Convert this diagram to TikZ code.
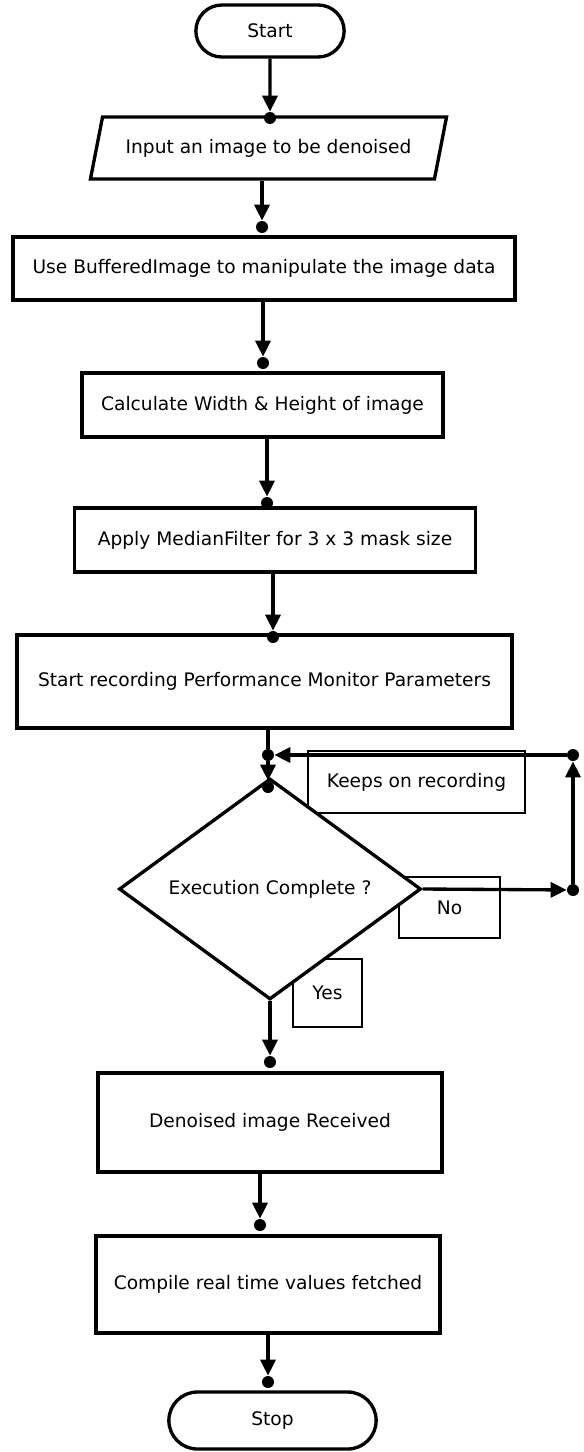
\documentclass[tikz,border=0pt]{standalone}
\usepackage{fontspec}
\setmainfont{DejaVu Sans}
\usetikzlibrary{shapes.geometric, shapes.misc, arrows.meta, positioning, calc}
\newcommand{\chartfont}{\fontsize{10.6}{13}\selectfont}

\begin{document}
\begin{tikzpicture}[
        terminal/.style={rounded rectangle, draw=black, line width=1.9pt, minimum height=1.04cm, font=\chartfont},
        io/.style={trapezium, trapezium left angle=70, trapezium right angle=110, trapezium stretches=true, draw=black, line width=1.9pt, font=\chartfont},
        process/.style={rectangle, draw=black, line width=1.9pt, align=center, font=\chartfont},
        decision/.style={diamond, draw=black, fill=white, line width=1.9pt, inner sep=0pt, font=\chartfont},
        tagbox/.style={rectangle, draw=black, line width=0.9pt, font=\chartfont},
        joint/.style={circle, fill=black, inner sep=0pt, minimum size=0.24cm},
        flow/.style={-{Triangle[width=0.3cm, length=0.32cm]}, line width=1.9pt},
        link/.style={line width=1.9pt}
    ]
        \useasboundingbox (0,0) rectangle (11.66,-29.04);

        % START / INPUT
        \node[terminal, minimum width=3.2cm] (start) at (5.40,-0.62) {Start};
        \node[io, minimum width=7.14cm, minimum height=1.24cm] (input) at (5.37,-2.96) {Input an image to be denoised};

        % PROCESSING
        \node[process, minimum width=10.04cm, minimum height=1.26cm] (buffer) at (5.28,-5.37) {Use BufferedImage to manipulate the image data};
        \node[process, minimum width=7.22cm, minimum height=1.28cm] (size) at (5.25,-8.10) {Calculate Width \& Height of image};
        \node[process, minimum width=8.02cm, minimum height=1.28cm] (median) at (5.50,-10.80) {Apply MedianFilter for 3 x 3 mask size};
        \node[process, minimum width=9.90cm, minimum height=1.86cm] (record) at (5.29,-13.63) {Start recording Performance Monitor Parameters};

        % LABELS (under the decision)
        \node[tagbox, minimum width=4.34cm, minimum height=1.24cm] (keeps) at (8.33,-15.64) {Keeps on recording};
        \node[tagbox, minimum width=2.02cm, minimum height=1.22cm] (no) at (8.99,-18.15) {No};
        \node[tagbox, minimum width=1.38cm, minimum height=1.36cm] (yes) at (6.55,-19.86) {Yes};

        % DECISION
        \node[decision, minimum width=6.04cm, minimum height=4.32cm] (exec) at (5.40,-17.78) {Execution Complete ?};

        % OUTPUT / STOP
        \node[process, minimum width=6.88cm, minimum height=1.98cm] (denoised) at (5.40,-22.45) {Denoised image Received};
        \node[process, minimum width=6.88cm, minimum height=1.94cm] (compile) at (5.36,-25.69) {Compile real time values fetched};
        \node[terminal, minimum width=4.38cm, minimum height=1.14cm] (stop) at (5.45,-28.41) {Stop};

        % JOINTS
        \node[joint] (j1) at (5.40,-2.36) {};
        \node[joint] (j2) at (5.24,-4.54) {};
        \node[joint] (j3) at (5.26,-7.26) {};
        \node[joint] (j4) at (5.34,-10.06) {};
        \node[joint] (j5) at (5.46,-12.74) {};
        \node[joint] (hub) at (5.36,-15.10) {};
        \node[joint] (j6) at (5.36,-15.74) {};
        \node[joint] (loopa) at (11.46,-17.80) {};
        \node[joint] (loopb) at (11.46,-15.10) {};
        \node[joint] (j7) at (5.40,-21.24) {};
        \node[joint] (j8) at (5.20,-24.50) {};
        \node[joint] (j9) at (5.36,-27.64) {};

        % FLOWS
        \draw[flow] (start) -- (j1);
        \draw[flow] (j2 |- input.south) -- (j2);
        \draw[flow] (j3 |- buffer.south) -- (j3);
        \draw[flow] (j4 |- size.south) -- (j4);
        \draw[flow] (j5 |- median.south) -- (j5);

        \draw[link] (hub |- record.south) -- (hub);
        \draw[flow] (hub) -- (j6);

        % LOOP
        \draw[flow] (exec.east) -- (loopa);
        \draw[flow] (loopa) -- (loopb);
        \draw[flow] (loopb) -- (hub);

        \draw[flow] (exec.south) -- (j7);
        \draw[flow] (j8 |- denoised.south) -- (j8);
        \draw[flow] (j9 |- compile.south) -- (j9);

    \end{tikzpicture}
\end{document}
